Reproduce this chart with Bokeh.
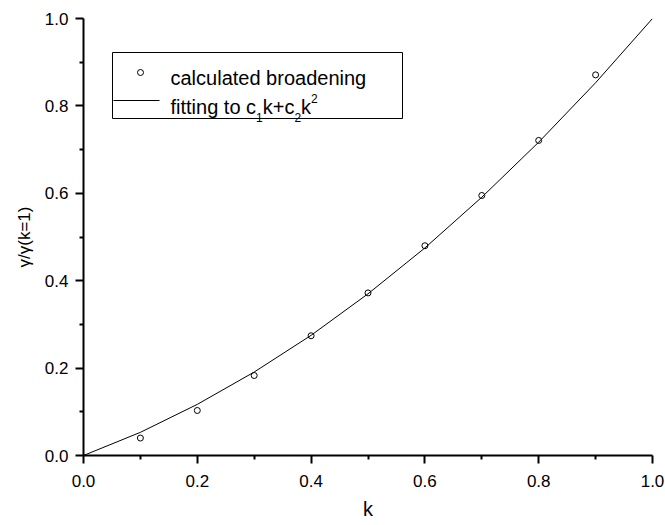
from bokeh.plotting import figure
from bokeh.models import Range1d, FixedTicker, PrintfTickFormatter, Label
from bokeh.embed import file_html
from bokeh.resources import INLINE

# ---- data ----
k_points = [0.1, 0.2, 0.3, 0.4, 0.5, 0.6, 0.7, 0.8, 0.9]
broadening = [0.040, 0.103, 0.183, 0.274, 0.372, 0.480, 0.595, 0.721, 0.871]

k_fit = [0.0, 0.1, 0.2, 0.3, 0.4, 0.5, 0.6, 0.7, 0.8, 0.9, 1.0]
fit_vals = [0.0, 0.053, 0.117, 0.191, 0.275, 0.370, 0.475, 0.591, 0.717, 0.853, 1.0]

major_ticks = [0.0, 0.2, 0.4, 0.6, 0.8, 1.0]
minor_ticks = [0.1, 0.3, 0.5, 0.7, 0.9]

FONT = "Liberation Sans"

W, H = 665, 525
BL, BR, BT, BB = 83, 13, 18, 70

p = figure(width=W, height=H, output_backend="svg", toolbar_location=None,
           x_range=Range1d(0, 1), y_range=Range1d(0, 1),
           min_border_left=BL, min_border_right=BR, min_border_top=BT, min_border_bottom=BB,
           x_axis_label="k", y_axis_label="γ/γ(k=1)")
p.outline_line_color = None
p.grid.visible = False
p.background_fill_color = "white"
p.border_fill_color = "white"

for ax in (p.xaxis[0], p.yaxis[0]):
    ax.ticker = FixedTicker(ticks=major_ticks, minor_ticks=minor_ticks)
    ax.formatter = PrintfTickFormatter(format="%.1f")
    ax.axis_line_color = "black"
    ax.axis_line_width = 2
    ax.major_tick_line_color = "black"
    ax.major_tick_line_width = 2
    ax.minor_tick_line_color = "black"
    ax.minor_tick_line_width = 2
    ax.major_tick_in = 0
    ax.major_tick_out = 8
    ax.minor_tick_in = 0
    ax.minor_tick_out = 4
    ax.major_label_text_font = FONT
    ax.major_label_text_font_size = "17px"
    ax.major_label_text_color = "black"
    ax.axis_label_text_font = FONT
    ax.axis_label_text_font_style = "normal"
    ax.axis_label_text_color = "black"

p.xaxis.major_label_standoff = 11
p.yaxis.major_label_standoff = 7
p.xaxis.axis_label_text_font_size = "20px"
p.xaxis.axis_label_standoff = 8
p.yaxis.axis_label_text_font_size = "17px"
p.yaxis.axis_label_standoff = 8

# curves
p.line(k_fit, fit_vals, line_color="black", line_width=1)
p.scatter(k_points, broadening, marker="circle", size=6, fill_color=None,
          line_color="black", line_width=1)

# ---- hand-built legend (pixel layout converted to data coords) ----
FW = W - BL - BR
FH = H - BT - BB


def dx(px):
    return (px - BL) / FW


def dy(py):
    return (H - BB - py) / FH


ARIAL = {"f": 278, "i": 222, "t": 278, "n": 556, "g": 556, " ": 278, "o": 556,
         "c": 500, "k": 500, "+": 584, "1": 556, "2": 556}


def text_w(s, size):
    return sum(ARIAL.get(ch, 556) for ch in s) * size / 1000.0


box_l, box_r, box_t, box_b = 112, 402, 52, 118
p.quad(left=[dx(box_l)], right=[dx(box_r)], top=[dy(box_t)], bottom=[dy(box_b)],
       fill_color="white", line_color="black", line_width=1)

p.scatter([dx(140)], [dy(72)], marker="circle", size=6, fill_color=None,
          line_color="black", line_width=1)
p.line([dx(113), dx(159)], [dy(100), dy(100)], line_color="black", line_width=1)

LEG = 20
SUB = 12
row1_base = 77
row2_base = 106.5
p.add_layout(Label(x=dx(170), y=dy(row1_base), text="calculated broadening",
                   text_font=FONT, text_font_size=f"{LEG}px", text_baseline="alphabetic",
                   text_color="black"))

pieces = [("fitting to c", LEG, row2_base),
          ("1", SUB, row2_base + 10.5),
          ("k+c", LEG, row2_base),
          ("2", SUB, row2_base + 10.5),
          ("k", LEG, row2_base),
          ("2", SUB, row2_base - 8.5)]
cx = 170
for s, sz, base in pieces:
    p.add_layout(Label(x=dx(cx), y=dy(base), text=s, text_font=FONT,
                       text_font_size=f"{sz}px", text_baseline="alphabetic",
                       text_color="black"))
    cx += text_w(s, sz)

open("out.html", "w").write(file_html(p, INLINE))
